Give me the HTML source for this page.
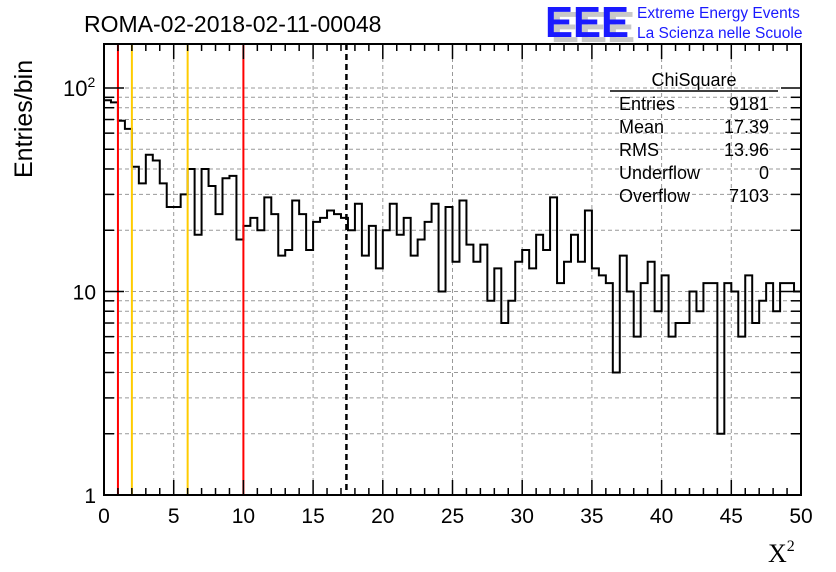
<!DOCTYPE html>
<html><head><meta charset="utf-8"><style>
body{margin:0;background:#fff;width:836px;height:572px;overflow:hidden}
svg{display:block;font-family:"Liberation Sans",sans-serif}
</style></head><body>
<svg id="chart" width="836" height="572" viewBox="0 0 836 572">
<text x="84" y="32" font-size="23">ROMA-02-2018-02-11-00048</text>
<text x="551" y="42" font-size="44" font-weight="bold" fill="#c8c8c8" textLength="84" lengthAdjust="spacingAndGlyphs">EEE</text>
<text x="545" y="37" font-size="44" font-weight="bold" fill="#1a1aff" textLength="84" lengthAdjust="spacingAndGlyphs">EEE</text>
<text x="637" y="18" font-size="15.5" fill="#1a1aff">Extreme Energy Events</text>
<text x="637" y="38" font-size="15.5" fill="#1a1aff">La Scienza nelle Scuole</text>
<g id="grid"></g>
<g id="marks"></g>
<g id="axes"></g>
<text transform="translate(32,178) rotate(-90)" font-size="25">Entries/bin</text>
<text x="768" y="562" font-size="26" font-family="Liberation Serif,serif">X<tspan font-size="16" dy="-11">2</tspan></text>
<g font-size="18">
<text x="694" y="86" text-anchor="middle">ChiSquare</text>
<line x1="610" y1="91" x2="778" y2="91" stroke="#000" stroke-width="1.5"/>
<text x="619" y="110">Entries</text><text x="769" y="110" text-anchor="end">9181</text>
<text x="619" y="133">Mean</text><text x="769" y="133" text-anchor="end">17.39</text>
<text x="619" y="156">RMS</text><text x="769" y="156" text-anchor="end">13.96</text>
<text x="619" y="179">Underflow</text><text x="769" y="179" text-anchor="end">0</text>
<text x="619" y="202">Overflow</text><text x="769" y="202" text-anchor="end">7103</text>
</g>
</svg>
<script>
const binCounts=[87,85,69,63,41,34,47,44,34,26,26,30,40,19,40,33,24,36,37,18,21,23,20,29,24,15,16,28,24,16,22,23,25,24,23,20,27,15,21,13,20,27,19,23,15,18,22,27,10,26,14,28,17,14,17,9,13,7,9,14,16,13,19,16,29,11,14,19,14,25,13,12,11,4,15,10,6,11,14,8,12,6,7,7,10,8,11,11,2,11,10,6,12,7,9,11,8,11,11,10];
const xRange=[0,50];
const xTickLabels=[0,5,10,15,20,25,30,35,40,45,50];
const cutLinesRed=[1,10];
const cutLinesOrange=[2,6];
const meanValue=17.39;
const L=104,R=801,T=44,B=495,DEC=203.5;
const NS="http://www.w3.org/2000/svg";
const sx=v=>L+(v-xRange[0])/(xRange[1]-xRange[0])*(R-L);
const sy=v=>B-Math.log10(v)*DEC;
function mk(t,a,p){const e=document.createElementNS(NS,t);for(const k in a)e.setAttribute(k,a[k]);p.appendChild(e);return e;}
const grid=document.getElementById('grid'),marks=document.getElementById('marks'),axes=document.getElementById('axes');
for(const t of xTickLabels){if(t===0||t===50)continue;const g=mk('line',{x1:sx(t),x2:sx(t),y1:T,y2:B,stroke:'#999','stroke-dasharray':'4,3','stroke-width':1},grid);

}
for(let d=1;d<=100;d*=10)for(let m=1;m<=9;m++){const v=d*m;const y=sy(v);if(y<=T||y>=B)continue;const g=mk('line',{x1:L,x2:R,y1:y,y2:y,stroke:'#999','stroke-dasharray':'4,3','stroke-width':1},grid);

}
const w=(xRange[1]-xRange[0])/binCounts.length;
let d=`M${sx(0)},${B}`;
binCounts.forEach((c,i)=>{const y=sy(Math.max(c,1));d+=` L${sx(i*w)},${y} L${sx((i+1)*w)},${y}`;});
d+=` L${sx(xRange[1])},${B}`;
const h=mk('path',{d:d,fill:'none',stroke:'#000','stroke-width':2},marks);


cutLinesRed.forEach(v=>{const l=mk('line',{x1:sx(v),x2:sx(v),y1:T,y2:B,stroke:'#f00','stroke-width':2},marks);

});
cutLinesOrange.forEach(v=>{const l=mk('line',{x1:sx(v),x2:sx(v),y1:T,y2:B,stroke:'#fc0','stroke-width':2},marks);

});
const ml=mk('line',{x1:sx(meanValue),x2:sx(meanValue),y1:T,y2:B,stroke:'#000','stroke-width':2.5,'stroke-dasharray':'6,4'},marks);


const fr=mk('rect',{x:L,y:T,width:R-L,height:B-T,fill:'none',stroke:'#000','stroke-width':2},axes);


for(let v=0;v<=50;v+=1){const maj=v%5===0;const len=maj?15:7;
mk('line',{x1:sx(v),x2:sx(v),y1:B,y2:B-len,stroke:'#000','stroke-width':1.5},axes);
mk('line',{x1:sx(v),x2:sx(v),y1:T,y2:T+len,stroke:'#000','stroke-width':1.5},axes);}
for(const t of xTickLabels){const tx=mk('text',{x:sx(t),y:523,'font-size':21,'text-anchor':'middle'},axes);tx.textContent=t;

}
for(let d2=1;d2<=100;d2*=10)for(let m=1;m<=9;m++){const v=d2*m;const y=sy(v);if(y<T||y>B)continue;const len=m===1?20:10;
mk('line',{x1:L,x2:L+len,y1:y,y2:y,stroke:'#000','stroke-width':1.5},axes);
mk('line',{x1:R,x2:R-len,y1:y,y2:y,stroke:'#000','stroke-width':1.5},axes);}
[['1',1],['10',10]].forEach(([s,v])=>{const tx=mk('text',{x:96,y:sy(v)+8,'font-size':21,'text-anchor':'end'},axes);tx.textContent=s;

});
const t100=mk('text',{x:63,y:sy(100)+8,'font-size':22},axes);t100.innerHTML='10<tspan font-size="14" dy="-9">2</tspan>';


</script>
</body></html>
